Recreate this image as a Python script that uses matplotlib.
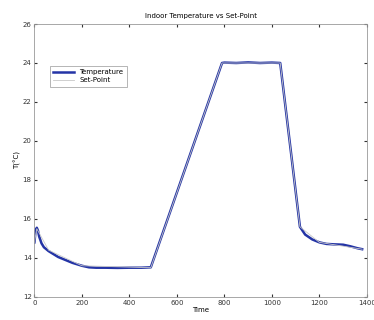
import matplotlib.pyplot as plt

# Indoor temperature readings
time = [0, 5, 10, 15, 20, 30, 40, 60, 80, 100, 130, 160, 200, 230, 260, 300,
        350, 400, 450, 490, 790, 800, 850, 900, 950, 1000, 1035, 1118,
        1140, 1170, 1200, 1230, 1260, 1300, 1330, 1360, 1380]
temp = [14.8, 15.4, 15.55, 15.4, 15.1, 14.75, 14.55, 14.35, 14.2, 14.05,
        13.9, 13.75, 13.6, 13.52, 13.5, 13.5, 13.49, 13.5, 13.5, 13.52,
        24.0, 24.02, 24.0, 24.03, 24.0, 24.02, 24.0, 15.6, 15.2, 14.95,
        14.8, 14.72, 14.7, 14.68, 14.6, 14.5, 14.45]

# Set-point (mostly hidden under the temperature trace)
sp_time = [0, 10, 60, 200, 490, 790, 1035, 1118, 1200, 1380]
sp_temp = [14.8, 15.5, 14.4, 13.6, 13.5, 24.0, 24.0, 15.6, 14.8, 14.45]

fig = plt.figure(figsize=(3.74, 3.2), dpi=100)
ax = fig.add_axes([0.092, 0.072, 0.889, 0.853])

ax.plot(time, temp, color='#2434a6', lw=1.8, label='Temperature')
ax.plot(sp_time, sp_temp, color='#c8c8c8', lw=0.6, label='Set-Point')

ax.set_xlim(0, 1400)
ax.set_ylim(12, 26)
ax.set_xticks(range(0, 1401, 200))
ax.set_yticks(range(12, 27, 2))
ax.tick_params(labelsize=5, length=2, direction='in', top=True, right=True,
               pad=2, colors='#333333')
for s in ax.spines.values():
    s.set_color('#999999')
    s.set_linewidth(0.6)

ax.set_title('Indoor Temperature vs Set-Point', fontsize=5, pad=4)
ax.set_xlabel('Time', fontsize=5, labelpad=1)
ax.set_ylabel('T(\u00b0C)', fontsize=5, labelpad=1)

leg = ax.legend(loc='upper left', bbox_to_anchor=(0.035, 0.86), fontsize=5,
                fancybox=False, edgecolor='#999999', handlelength=3,
                borderpad=0.5, labelspacing=0.3, framealpha=1)
leg.get_frame().set_linewidth(0.5)

fig.savefig('out.png', dpi=100)
